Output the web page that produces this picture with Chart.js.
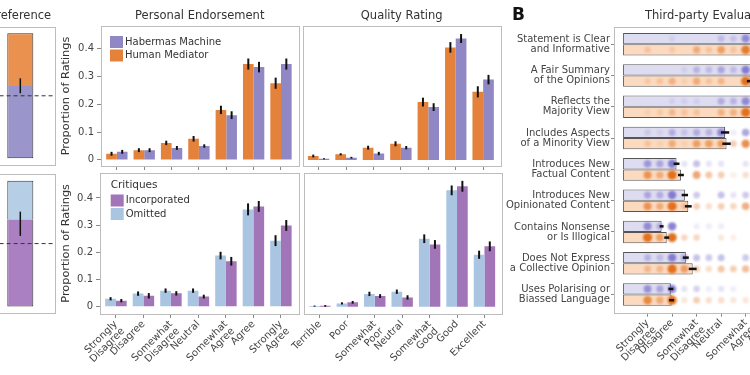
<!DOCTYPE html>
<html>
<head>
<meta charset="utf-8">
<script src="https://cdn.jsdelivr.net/npm/chart.js@4.4.0/dist/chart.umd.min.js"></script>
<style>
  html, body { margin: 0; padding: 0; background: #fff; overflow: hidden; width: 750px; height: 375px; }
  canvas { position: absolute; }
</style>
</head>
<body>
<canvas id="prefTop" width="76" height="170" style="left:-20px;top:0"></canvas>
<canvas id="prefBottom" width="76" height="150" style="left:-20px;top:170px"></canvas>
<canvas id="peTop" width="248" height="170" style="left:56px;top:0"></canvas>
<canvas id="qrTop" width="208" height="170" style="left:298px;top:0"></canvas>
<canvas id="peBottom" width="248" height="205" style="left:56px;top:170px"></canvas>
<canvas id="qrBottom" width="246" height="205" style="left:260px;top:170px"></canvas>
<canvas id="evalChart" width="310" height="375" style="left:505px;top:0"></canvas>
<script>
// categories
const endorseLabels = [['Strongly', 'Disagree'], 'Disagree', ['Somewhat', 'Disagree'], 'Neutral', ['Somewhat', 'Agree'], 'Agree', ['Strongly', 'Agree']];
const qualityLabels = ['Terrible', 'Poor', ['Somewhat', 'Poor'], 'Neutral', ['Somewhat', 'Good'], 'Good', 'Excellent'];
const slots = [0, 1, 2, 3, 4, 5, 6];
const yTicks = [0, 0.1, 0.2, 0.3, 0.4];

// preference (share of choices)
const prefHabermas = [0.578];
const prefMediator = [0.422];
const prefHabermasCI = [[0.52, 0.64]];
const prefIncorporated = [0.694];
const prefOmitted = [0.306];
const prefIncorporatedCI = [[0.561, 0.754]];

// proportion of ratings
const peMediator = [0.022, 0.035, 0.061, 0.076, 0.180, 0.345, 0.276];
const peMediatorErr = [0.007, 0.007, 0.008, 0.010, 0.015, 0.020, 0.020];
const peHabermas = [0.029, 0.035, 0.043, 0.050, 0.161, 0.334, 0.345];
const peHabermasErr = [0.007, 0.007, 0.007, 0.006, 0.014, 0.019, 0.020];
const qrMediator = [0.014, 0.020, 0.044, 0.058, 0.208, 0.405, 0.245];
const qrMediatorErr = [0.005, 0.004, 0.007, 0.009, 0.016, 0.019, 0.020];
const qrHabermas = [0.004, 0.008, 0.023, 0.044, 0.190, 0.437, 0.289];
const qrHabermasErr = [0.002, 0.003, 0.006, 0.006, 0.014, 0.016, 0.017];
const peOmitted = [0.029, 0.048, 0.059, 0.059, 0.188, 0.358, 0.243];
const peOmittedErr = [0.006, 0.008, 0.008, 0.008, 0.014, 0.022, 0.020];
const peIncorporated = [0.022, 0.040, 0.049, 0.037, 0.167, 0.369, 0.299];
const peIncorporatedErr = [0.006, 0.010, 0.008, 0.007, 0.016, 0.020, 0.020];
const qrOmitted = [0.002, 0.012, 0.047, 0.055, 0.250, 0.428, 0.191];
const qrOmittedErr = [0.002, 0.004, 0.008, 0.008, 0.016, 0.018, 0.015];
const qrIncorporated = [0.003, 0.016, 0.039, 0.034, 0.229, 0.443, 0.222];
const qrIncorporatedErr = [0.003, 0.005, 0.007, 0.008, 0.016, 0.020, 0.018];

// third-party evaluation (mean on 1-7 scale)
const criteria = [['Statement is Clear', 'and Informative'], ['A Fair Summary', 'of the Opinions'], ['Reflects the', 'Majority View'],
  ['Includes Aspects', 'of a Minority View'], ['Introduces New', 'Factual Content'], ['Introduces New', 'Opinionated Content'],
  ['Contains Nonsense', 'or Is Illogical'], ['Does Not Express', 'a Collective Opinion'], ['Uses Polarising or', 'Biassed Language']];
const evalHabermas = [5.7, 5.5, 5.6, 4.16, 2.18, 2.52, 1.57, 2.56, 1.95];
const evalHabermasErr = [0.12, 0.13, 0.12, 0.17, 0.12, 0.13, 0.08, 0.12, 0.10];
const evalMediator = [5.6, 5.2, 5.5, 4.22, 2.36, 2.66, 1.78, 2.84, 1.98];
const evalMediatorErr = [0.12, 0.15, 0.12, 0.17, 0.12, 0.14, 0.10, 0.16, 0.10];

// rating density at 1, 1.5, ... 5 (visible part)
const dotSteps = [1, 1.5, 2, 2.5, 3, 3.5, 4, 4.5, 5];
const dotsHabermas = [
  [0, 0, 0.1, 0, 0, 0, 0.25, 0.2, 0.6],
  [0, 0, 0, 0.1, 0.3, 0.25, 0.4, 0.25, 0.7],
  [0, 0, 0.1, 0.1, 0.1, 0, 0.35, 0.3, 0.6],
  [0.15, 0.1, 0.35, 0.2, 0.35, 0.3, 0.6, 0.1, 0.5],
  [0.5, 0.4, 0.7, 0.15, 0.35, 0.15, 0.15, 0, 0.15],
  [0.4, 0.35, 0.7, 0, 0.3, 0, 0.35, 0.15, 0.3],
  [0.6, 0.35, 0.7, 0, 0.1, 0.1, 0.1, 0, 0],
  [0.3, 0.25, 0.7, 0.4, 0.35, 0.3, 0.35, 0, 0.3],
  [0.55, 0.4, 0.7, 0.15, 0.25, 0.1, 0.15, 0.1, 0]
];
const dotsMediator = [
  [0.2, 0, 0.15, 0, 0.4, 0.2, 0.5, 0.2, 0.8],
  [0.15, 0.2, 0.35, 0.1, 0.4, 0.2, 0.3, 0, 0.9],
  [0.1, 0.15, 0.3, 0.2, 0.2, 0, 0.35, 0.35, 0.9],
  [0.2, 0.1, 0.4, 0.1, 0.5, 0.5, 0.5, 0.3, 0.7],
  [0.6, 0.4, 0.9, 0, 0.55, 0.35, 0.3, 0.1, 0.2],
  [0.6, 0.4, 0.9, 0.25, 0.3, 0.2, 0.3, 0.25, 0.5],
  [0.9, 0.5, 0.9, 0.25, 0.25, 0, 0.15, 0.1, 0],
  [0.3, 0.3, 0.9, 0.5, 0.3, 0.2, 0.35, 0.3, 0.4],
  [0.7, 0.4, 0.9, 0.15, 0.3, 0.2, 0.2, 0.15, 0.15]
];

Chart.defaults.font.family = "'DejaVu Sans', sans-serif";
Chart.defaults.font.size = 10;
Chart.defaults.color = '#444';

// fixed axis sizes, no extra label padding
function fixSize(w, h) {
  return s => {
    if (w !== null) s.width = w;
    if (h !== null) s.height = h;
    s.paddingLeft = 0; s.paddingRight = 0; s.paddingTop = 0; s.paddingBottom = 0;
  };
}

// frame, titles, legends, error bars, reference line
const decor = {
  id: 'decor',
  beforeDatasetDraw(chart, args) {
    if (args.meta.type === 'bubble') { chart.ctx.save(); chart.ctx.filter = 'blur(0.8px)'; }
  },
  afterDatasetDraw(chart, args) {
    if (args.meta.type === 'bubble') chart.ctx.restore();
  },
  afterDatasetsDraw(chart) {
    const ctx = chart.ctx;
    const horiz = chart.options.indexAxis === 'y';
    chart.data.datasets.forEach((ds, i) => {
      if (!ds.errors && !ds.ci) return;
      const meta = chart.getDatasetMeta(i);
      const vs = horiz ? chart.scales.x : chart.scales.y;
      ctx.save();
      ctx.strokeStyle = '#111';
      ctx.lineWidth = ds.errWidth || 2;
      meta.data.forEach((bar, j) => {
        const lo = ds.ci ? ds.ci[j][0] : ds.data[j] - ds.errors[j];
        const hi = ds.ci ? ds.ci[j][1] : ds.data[j] + ds.errors[j];
        ctx.beginPath();
        if (horiz) {
          ctx.moveTo(vs.getPixelForValue(lo), bar.y);
          ctx.lineTo(vs.getPixelForValue(hi), bar.y);
        } else {
          ctx.moveTo(bar.x, vs.getPixelForValue(lo));
          ctx.lineTo(bar.x, vs.getPixelForValue(hi));
        }
        ctx.stroke();
      });
      ctx.restore();
    });
  },
  afterDraw(chart, args, o) {
    const ctx = chart.ctx;
    const a = chart.chartArea;
    ctx.save();
    if (o.refLine !== undefined) {
      const y = chart.scales.y.getPixelForValue(o.refLine);
      ctx.setLineDash([4, 3]);
      ctx.strokeStyle = '#333';
      ctx.lineWidth = 1;
      ctx.beginPath();
      ctx.moveTo(a.left, y);
      ctx.lineTo(a.right, y);
      ctx.stroke();
      ctx.setLineDash([]);
    }
    ctx.strokeStyle = '#bdbdbd';
    ctx.lineWidth = 1;
    ctx.strokeRect(Math.round(a.left) + 0.5, Math.round(a.top) + 0.5, Math.round(a.right - a.left), Math.round(a.bottom - a.top));
    ctx.textBaseline = 'middle';
    if (o.title) {
      ctx.fillStyle = '#333';
      ctx.textAlign = 'center';
      ctx.font = "11.5px 'DejaVu Sans'";
      ctx.fillText(o.title, (a.left + a.right) / 2, o.titleY);
    }
    if (o.letter) {
      ctx.fillStyle = '#111';
      ctx.textAlign = 'left';
      ctx.font = "bold 17px 'DejaVu Sans'";
      ctx.fillText(o.letter, 7, 16);
    }
    if (o.legend) {
      const L = o.legend;
      let y = a.top + L.y;
      ctx.textAlign = 'left';
      if (L.title) {
        ctx.fillStyle = '#333';
        ctx.font = "10.5px 'DejaVu Sans'";
        ctx.fillText(L.title, a.left + L.x, y);
        y += 15.5;
      }
      ctx.font = "10px 'DejaVu Sans'";
      L.items.forEach(it => {
        ctx.fillStyle = it.color;
        ctx.fillRect(a.left + L.x, y - 6, 13, 12);
        ctx.fillStyle = '#333';
        ctx.fillText(it.label, a.left + L.x + 15, y);
        y += 13.5;
      });
    }
    ctx.restore();
  }
};

function prefChart(id, lower, upper, ci, colors, o) {
  return new Chart(document.getElementById(id), {
    type: 'bar',
    data: {
      labels: ['share'],
      datasets: [
        { data: lower, ci: ci, errWidth: 1.5, backgroundColor: colors[0], borderColor: '#333', borderWidth: 1, borderSkipped: 'top', barPercentage: 1, categoryPercentage: 0.375 },
        { data: upper, backgroundColor: colors[1], borderColor: '#333', borderWidth: 1, borderSkipped: 'bottom', barPercentage: 1, categoryPercentage: 0.375 }
      ]
    },
    options: {
      responsive: false, animation: false, events: [],
      layout: { padding: o.padding },
      scales: {
        x: { display: false, stacked: true },
        y: { display: false, stacked: true, min: -0.054, max: 1.053 }
      },
      plugins: { legend: { display: false }, tooltip: { enabled: false }, decor: { title: o.title, titleY: 16, refLine: 0.5 } }
    },
    plugins: [decor]
  });
}

function ratingChart(id, names, series, o) {
  return new Chart(document.getElementById(id), {
    type: 'bar',
    data: {
      labels: slots,
      datasets: series.map(s => ({
        data: s.data, errors: s.err, backgroundColor: s.color, borderWidth: 0, barPercentage: 1, categoryPercentage: 0.78
      }))
    },
    options: {
      responsive: false, animation: false, events: [],
      layout: { padding: o.padding },
      scales: {
        x: {
          type: 'linear', min: -0.58, max: 6.64, offset: false,
          afterBuildTicks: s => { s.ticks = slots.map(v => ({ value: v })); },
          afterFit: fixSize(null, o.xHeight),
          grid: { offset: false, drawOnChartArea: false, tickLength: 4, color: '#888' },
          border: { display: false },
          ticks: { display: o.showNames, callback: v => names[v], autoSkip: false, minRotation: 45, maxRotation: 45, padding: 1, font: { size: 10, lineHeight: 1 } }
        },
        y: {
          display: o.showY, min: o.yMin, max: o.yMax,
          afterBuildTicks: s => { s.ticks = yTicks.map(v => ({ value: v })); },
          afterFit: fixSize(o.yWidth, null),
          grid: { drawOnChartArea: false, tickLength: 4, color: '#888' },
          border: { display: false },
          ticks: { padding: 3, font: { size: 10 }, callback: v => v === 0 ? '0' : v.toFixed(1) },
          title: { display: true, text: 'Proportion of Ratings', font: { size: 11.3 }, color: '#333', padding: { top: 3, bottom: 0 } }
        }
      },
      plugins: { legend: { display: false }, tooltip: { enabled: false }, decor: { title: o.title, titleY: 16, legend: o.legend } }
    },
    plugins: [decor]
  });
}

const orange = '#e4823b', lilac = '#8f88c5', paleBlue = '#a9c5e2', violet = '#a274b8';

prefChart('prefTop', prefHabermas, prefMediator, prefHabermasCI, ['#9a95cb', '#eb9150'],
  { title: 'Preference', padding: { left: 5.6, right: 1, top: 26.7, bottom: 5 } });
prefChart('prefBottom', prefIncorporated, prefOmitted, prefIncorporatedCI, ['#ab80c2', '#b6cee6'],
  { padding: { left: 5.6, right: 1, top: 4, bottom: 6.7 } });

ratingChart('peTop', endorseLabels, [
  { data: peMediator, err: peMediatorErr, color: orange },
  { data: peHabermas, err: peHabermasErr, color: lilac }
], {
  title: 'Personal Endorsement', showY: true, showNames: false, yMin: -0.022, yMax: 0.482, yWidth: 45, xHeight: 4,
  padding: { left: 0, right: 5.5, top: 26, bottom: 0 },
  legend: { x: 9, y: 16, items: [{ label: 'Habermas Machine', color: lilac }, { label: 'Human Mediator', color: orange }] }
});

ratingChart('qrTop', qualityLabels, [
  { data: qrMediator, err: qrMediatorErr, color: orange },
  { data: qrHabermas, err: qrHabermasErr, color: lilac }
], {
  title: 'Quality Rating', showY: false, showNames: false, yMin: -0.022, yMax: 0.482, yWidth: 0, xHeight: 4,
  padding: { left: 4.7, right: 5.3, top: 26, bottom: 0 }
});

ratingChart('peBottom', endorseLabels, [
  { data: peOmitted, err: peOmittedErr, color: paleBlue },
  { data: peIncorporated, err: peIncorporatedErr, color: violet }
], {
  showY: true, showNames: true, yMin: -0.027, yMax: 0.493, yWidth: 44, xHeight: 61,
  padding: { left: 0, right: 5.5, top: 2.7, bottom: 0 },
  legend: { x: 10.7, y: 12.3, title: 'Critiques', items: [{ label: 'Incorporated', color: violet }, { label: 'Omitted', color: paleBlue }] }
});

ratingChart('qrBottom', qualityLabels, [
  { data: qrOmitted, err: qrOmittedErr, color: paleBlue },
  { data: qrIncorporated, err: qrIncorporatedErr, color: violet }
], {
  showY: false, showNames: true, yMin: -0.027, yMax: 0.493, yWidth: 0, xHeight: 61,
  padding: { left: 44, right: 4, top: 2.7, bottom: 0 }
});

// Third-party evaluation
function dotPoints(rows, shift) {
  const pts = [];
  rows.forEach((row, i) => row.forEach((a, k) => {
    if (a > 0) pts.push({ x: dotSteps[k], y: i + shift, r: 2.8 + a * 2, a: a });
  }));
  return pts;
}
function dotColor(c, rgb) {
  const a = c.raw && c.raw.a !== undefined ? Math.min(1, c.raw.a * 1.1) : 0;
  return 'rgba(' + rgb + ',' + a + ')';
}

new Chart(document.getElementById('evalChart'), {
  type: 'bar',
  data: {
    labels: criteria.map((c, i) => i),
    datasets: [
      { type: 'bubble', data: dotPoints(dotsHabermas, -0.18), backgroundColor: c => dotColor(c, '104,94,196'), borderWidth: 0, order: 1 },
      { type: 'bubble', data: dotPoints(dotsMediator, 0.18), backgroundColor: c => dotColor(c, '226,110,26'), borderWidth: 0, order: 1 },
      { data: evalHabermas, errors: evalHabermasErr, errWidth: 2.5, backgroundColor: '#dedcf1', borderColor: '#555', borderWidth: 1, borderSkipped: false, barPercentage: 1, categoryPercentage: 0.72, order: 2 },
      { data: evalMediator, errors: evalMediatorErr, errWidth: 2.5, backgroundColor: '#fbdac0', borderColor: '#555', borderWidth: 1, borderSkipped: false, barPercentage: 1, categoryPercentage: 0.72, order: 2 }
    ]
  },
  options: {
    indexAxis: 'y',
    responsive: false, animation: false, events: [],
    layout: { padding: { left: 0, right: 11, top: 27, bottom: 0 } },
    scales: {
      x: {
        type: 'linear', min: -0.37, max: 7.38,
        afterBuildTicks: s => { s.ticks = [1, 2, 3, 4, 5, 6, 7].map(v => ({ value: v })); },
        afterFit: fixSize(null, 62.3),
        grid: { drawOnChartArea: false, tickLength: 4, color: '#888' },
        border: { display: false },
        ticks: { callback: v => endorseLabels[v - 1], autoSkip: false, minRotation: 45, maxRotation: 45, padding: 1, font: { size: 10, lineHeight: 1 } }
      },
      y: {
        type: 'linear', min: -0.55, max: 8.58, reverse: true, offset: false,
        afterBuildTicks: s => { s.ticks = criteria.map((c, i) => ({ value: i })); },
        afterFit: fixSize(109, null),
        grid: { offset: false, drawOnChartArea: false, tickLength: 3, color: '#888' },
        border: { display: false },
        ticks: { callback: v => criteria[v], autoSkip: false, padding: 1, font: { size: 10, lineHeight: 1 } }
      }
    },
    plugins: { legend: { display: false }, tooltip: { enabled: false }, decor: { title: 'Third-party Evaluation', titleY: 16, letter: 'B' } }
  },
  plugins: [decor]
});
</script>
</body>
</html>
